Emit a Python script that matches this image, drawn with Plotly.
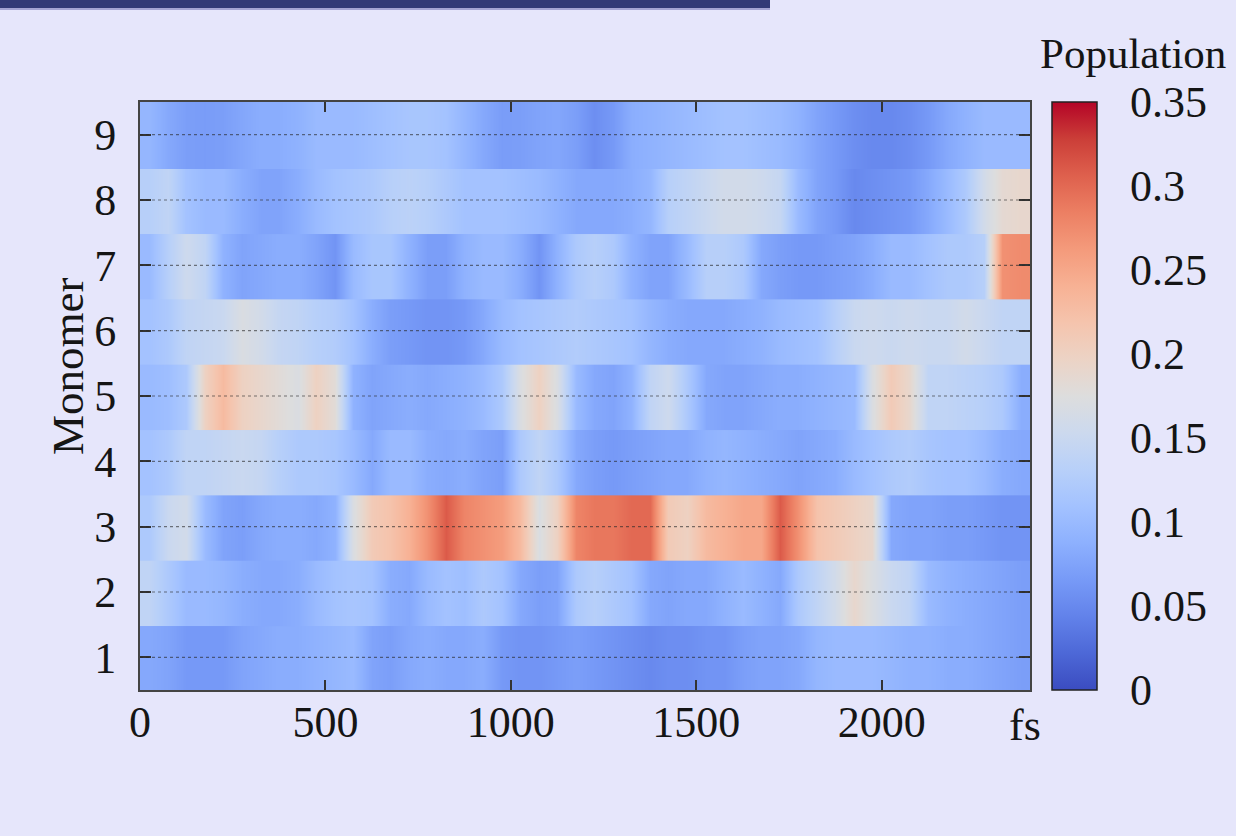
import plotly.graph_objects as go

# time axis (fs), centres of 50 fs bins
times = list(range(25, 2400, 50))
monomers = [1, 2, 3, 4, 5, 6, 7, 8, 9]
x_tick_vals = [0, 500, 1000, 1500, 2000]
x_tick_text = ["0", "500", "1000", "1500", "2000"]
cb_tick_vals = [0, 0.05, 0.1, 0.15, 0.2, 0.25, 0.3, 0.35]
cb_tick_text = ["0", "0.05", "0.1", "0.15", "0.2", "0.25", "0.3", "0.35"]

pop_m1 = [0.08, 0.075, 0.065, 0.065, 0.065, 0.075, 0.08, 0.085, 0.085, 0.09, 0.095, 0.1,
          0.075, 0.07, 0.08, 0.085, 0.08, 0.08, 0.085, 0.065, 0.06, 0.06, 0.065, 0.07,
          0.065, 0.06, 0.055, 0.05, 0.055, 0.055, 0.06, 0.06, 0.07, 0.075, 0.075, 0.08,
          0.095, 0.1, 0.1, 0.1, 0.095, 0.09, 0.09, 0.085, 0.085, 0.08, 0.075, 0.07]
pop_m2 = [0.14, 0.12, 0.1, 0.1, 0.095, 0.085, 0.08, 0.08, 0.085, 0.1, 0.11, 0.115,
          0.11, 0.085, 0.08, 0.1, 0.11, 0.105, 0.12, 0.11, 0.08, 0.07, 0.075, 0.12,
          0.13, 0.12, 0.11, 0.08, 0.075, 0.08, 0.08, 0.09, 0.1, 0.09, 0.08, 0.12,
          0.14, 0.16, 0.19, 0.17, 0.15, 0.14, 0.1, 0.09, 0.085, 0.08, 0.075, 0.07]
pop_m3 = [0.12, 0.15, 0.16, 0.1, 0.075, 0.07, 0.08, 0.085, 0.085, 0.08, 0.09, 0.17,
          0.21, 0.22, 0.24, 0.27, 0.31, 0.28, 0.27, 0.26, 0.23, 0.17, 0.2, 0.28,
          0.29, 0.29, 0.3, 0.3, 0.21, 0.2, 0.23, 0.24, 0.25, 0.25, 0.31, 0.27,
          0.22, 0.21, 0.2, 0.19, 0.08, 0.075, 0.075, 0.07, 0.07, 0.065, 0.06, 0.06]
pop_m4 = [0.11, 0.12, 0.14, 0.14, 0.145, 0.15, 0.145, 0.13, 0.12, 0.12, 0.115, 0.1,
          0.08, 0.1, 0.1, 0.085, 0.08, 0.085, 0.075, 0.07, 0.12, 0.14, 0.12, 0.08,
          0.07, 0.065, 0.07, 0.075, 0.08, 0.08, 0.09, 0.095, 0.09, 0.085, 0.08, 0.075,
          0.08, 0.085, 0.1, 0.11, 0.12, 0.125, 0.115, 0.11, 0.11, 0.1, 0.085, 0.08]
pop_m5 = [0.1, 0.105, 0.12, 0.2, 0.23, 0.2, 0.19, 0.18, 0.17, 0.2, 0.18, 0.09,
          0.075, 0.08, 0.085, 0.08, 0.085, 0.09, 0.1, 0.12, 0.17, 0.2, 0.17, 0.1,
          0.08, 0.075, 0.09, 0.14, 0.155, 0.12, 0.08, 0.075, 0.075, 0.08, 0.085, 0.085,
          0.09, 0.095, 0.1, 0.17, 0.21, 0.19, 0.14, 0.14, 0.135, 0.13, 0.12, 0.085]
pop_m6 = [0.11, 0.12, 0.14, 0.145, 0.15, 0.17, 0.16, 0.145, 0.14, 0.13, 0.125, 0.11,
          0.085, 0.07, 0.065, 0.06, 0.06, 0.065, 0.08, 0.1, 0.11, 0.115, 0.12, 0.125,
          0.12, 0.115, 0.11, 0.095, 0.085, 0.08, 0.08, 0.08, 0.085, 0.09, 0.1, 0.105,
          0.11, 0.13, 0.15, 0.155, 0.15, 0.155, 0.15, 0.15, 0.16, 0.15, 0.14, 0.14]
pop_m7 = [0.1, 0.13, 0.155, 0.14, 0.09, 0.075, 0.08, 0.085, 0.085, 0.075, 0.06, 0.1,
          0.115, 0.115, 0.09, 0.07, 0.07, 0.09, 0.1, 0.1, 0.085, 0.06, 0.09, 0.12,
          0.13, 0.12, 0.09, 0.075, 0.075, 0.1, 0.13, 0.13, 0.12, 0.08, 0.07, 0.065,
          0.065, 0.07, 0.075, 0.085, 0.1, 0.1, 0.11, 0.12, 0.12, 0.13, 0.27, 0.275]
pop_m8 = [0.13, 0.14, 0.11, 0.1, 0.1, 0.085, 0.075, 0.075, 0.085, 0.1, 0.11, 0.115,
          0.12, 0.13, 0.135, 0.13, 0.12, 0.11, 0.11, 0.11, 0.105, 0.1, 0.09, 0.08,
          0.08, 0.08, 0.085, 0.095, 0.13, 0.14, 0.15, 0.16, 0.16, 0.155, 0.145, 0.1,
          0.075, 0.065, 0.05, 0.055, 0.06, 0.065, 0.08, 0.1, 0.12, 0.16, 0.185, 0.19]
pop_m9 = [0.095, 0.08, 0.07, 0.068, 0.07, 0.078, 0.085, 0.085, 0.09, 0.1, 0.1, 0.1,
          0.105, 0.11, 0.115, 0.115, 0.11, 0.095, 0.08, 0.068, 0.07, 0.075, 0.078, 0.07,
          0.055, 0.065, 0.085, 0.09, 0.095, 0.1, 0.105, 0.11, 0.11, 0.105, 0.1, 0.09,
          0.075, 0.065, 0.055, 0.05, 0.05, 0.055, 0.065, 0.08, 0.09, 0.1, 0.1, 0.1]

rows = [pop_m1, pop_m2, pop_m3, pop_m4, pop_m5, pop_m6, pop_m7, pop_m8, pop_m9]

coolwarm = [
    [0.0, "rgb(59,76,192)"], [0.0625, "rgb(77,104,215)"], [0.125, "rgb(98,130,234)"],
    [0.1875, "rgb(119,154,247)"], [0.25, "rgb(141,176,254)"], [0.3125, "rgb(163,194,255)"],
    [0.375, "rgb(184,208,249)"], [0.4375, "rgb(204,217,238)"], [0.5, "rgb(221,221,221)"],
    [0.5625, "rgb(236,211,197)"], [0.625, "rgb(245,196,173)"], [0.6875, "rgb(247,177,148)"],
    [0.75, "rgb(244,154,123)"], [0.8125, "rgb(236,127,99)"], [0.875, "rgb(222,96,77)"],
    [0.9375, "rgb(203,62,56)"], [1.0, "rgb(180,4,38)"],
]

BG = "#e6e6fb"
FONT = "Liberation Serif"
TXT = "#151515"

W, H = 1236, 836
L, R, T, B = 140, 206, 102, 146
pw, ph = W - L - R, H - T - B

def px_x(px):
    return (px - L) / pw

def px_y(py):
    return 1 - (py - T) / ph

fig = go.Figure()
# one smoothed strip per monomer; strips overlap slightly to avoid hairline gaps
for m, vals in zip(monomers, rows):
    fig.add_trace(go.Heatmap(
        x=times, y=[m - 0.26, m + 0.26], z=[vals, vals],
        coloraxis="coloraxis", zsmooth="best", hoverinfo="skip",
    ))

fig.update_layout(
    width=W, height=H,
    margin=dict(l=L, r=R, t=T, b=B),
    paper_bgcolor=BG, plot_bgcolor=BG,
    font=dict(family=FONT, size=44, color=TXT),
    showlegend=False,
    coloraxis=dict(
        colorscale=coolwarm, cmin=0, cmax=0.35,
        colorbar=dict(
            x=px_x(1052), xanchor="left", xpad=0, ypad=0,
            y=0.5, yanchor="middle", len=1, lenmode="fraction",
            thickness=45, thicknessmode="pixels",
            outlinewidth=1.5, outlinecolor="#222",
            tickvals=cb_tick_vals, ticktext=cb_tick_text,
            ticks="outside", ticklen=24, tickcolor=BG,
            tickfont=dict(family=FONT, size=44, color=TXT),
        ),
    ),
    xaxis=dict(
        range=[0, 2400], tickvals=x_tick_vals, ticktext=x_tick_text,
        ticks="inside", ticklen=10, tickwidth=2, tickcolor="#333",
        showline=True, linecolor="#444", linewidth=2, mirror="ticks",
        showgrid=False, zeroline=False, ticklabelstandoff=-8,
        tickfont=dict(family=FONT, size=44, color=TXT),
    ),
    yaxis=dict(
        range=[0.5, 9.5], tickvals=monomers, ticktext=[str(m) for m in monomers],
        ticks="inside", ticklen=11, tickwidth=2, tickcolor="#333",
        showline=True, linecolor="#444", linewidth=2, mirror="ticks",
        showgrid=False, zeroline=False, ticklabelstandoff=13,
        tickfont=dict(family=FONT, size=44, color=TXT),
    ),
    annotations=[
        dict(text="Monomer", textangle=-90, xref="paper", yref="paper",
             x=px_x(68), y=px_y(367), xanchor="center", yanchor="middle",
             showarrow=False, font=dict(family=FONT, size=45, color=TXT)),
        dict(text="fs", xref="paper", yref="paper",
             x=px_x(1025), y=px_y(725), xanchor="center", yanchor="middle",
             showarrow=False, font=dict(family=FONT, size=44, color=TXT)),
        dict(text="Population", xref="paper", yref="paper",
             x=px_x(1133), y=px_y(54), xanchor="center", yanchor="middle",
             showarrow=False, font=dict(family=FONT, size=43, color=TXT)),
    ],
)

# dotted horizontal grid lines drawn above the heat map
for m in monomers:
    fig.add_hline(y=m, line=dict(color="rgba(40,40,40,0.6)", width=1.2, dash="dot"), layer="above")

# header bar at the top-left of the page
fig.add_shape(type="rect", xref="paper", yref="paper",
              x0=px_x(0), x1=px_x(770), y0=px_y(10), y1=px_y(8),
              fillcolor="#a4a4d4", line=dict(width=0), layer="above")
fig.add_shape(type="rect", xref="paper", yref="paper",
              x0=px_x(0), x1=px_x(770), y0=px_y(8), y1=px_y(-2),
              fillcolor="#323a78", line=dict(width=0), layer="above")

fig.write_html("out.html")
